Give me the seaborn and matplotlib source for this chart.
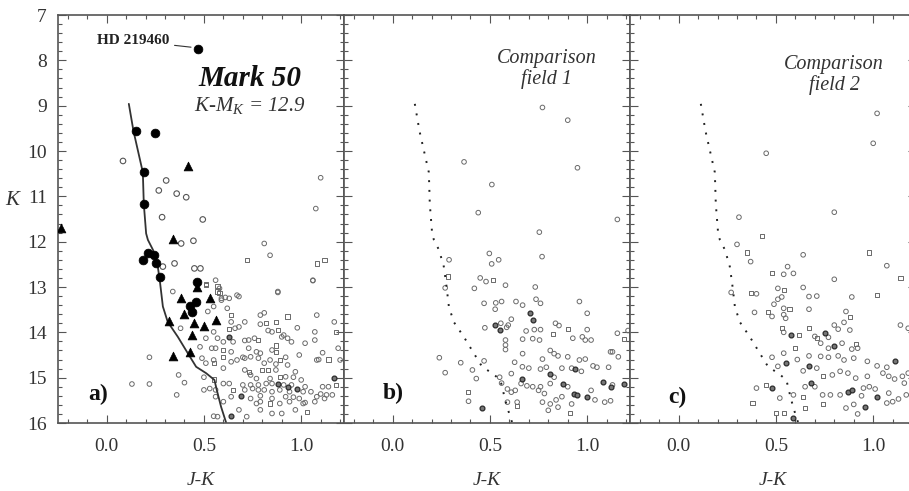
import matplotlib
matplotlib.use("Agg")
import matplotlib.pyplot as plt
import seaborn as sns
import pandas as pd
from matplotlib.ticker import MultipleLocator

# Isochrone (J-K, K)
iso_jk = [0.114, 0.138, 0.186, 0.191, 0.203, 0.212, 0.238, 0.263, 0.275, 0.289, 0.314,
          0.366, 0.417, 0.460, 0.511, 0.554, 0.566, 0.588, 0.614]
iso_k = [8.96, 9.56, 10.47, 11.17, 11.82, 11.96, 12.18, 12.55, 12.92, 13.43, 13.77,
         14.10, 14.46, 14.76, 14.90, 15.05, 15.27, 15.64, 15.99]

# Panel a: Mark 50 members
a_big = [(0.47, 7.74), (0.149, 9.56), (0.246, 9.60), (0.19, 10.47), (0.19, 11.17),
         (0.212, 12.24), (0.241, 12.30), (0.185, 12.41), (0.255, 12.48), (0.275, 12.79),
         (0.463, 12.88), (0.46, 13.32), (0.43, 13.43), (0.44, 13.55)]
a_tri = [(0.42, 10.32), (0.34, 11.95), (-0.236, 11.69), (0.463, 13.0), (0.383, 13.25),
         (0.532, 13.25), (0.40, 13.6), (0.318, 13.75), (0.448, 13.79), (0.499, 13.86),
         (0.56, 13.73), (0.437, 14.06), (0.43, 14.43), (0.34, 14.52)]
a_open = [(0.084, 10.22), (0.306, 10.65), (0.268, 10.87), (0.36, 10.94), (0.409, 11.02),
          (0.285, 11.46), (0.494, 11.51), (0.383, 12.04), (0.446, 11.98), (0.289, 12.55),
          (0.451, 12.59), (0.482, 12.59), (0.349, 12.48)]
a_circ = [(0.58, 13.03), (0.67, 13.18), (0.68, 13.21), (0.88, 13.12), (1.06, 12.86),
          (0.59, 13.29), (0.55, 13.43), (0.52, 13.54), (0.62, 13.47), (0.79, 13.62),
          (0.81, 13.57), (1.08, 13.62), (1.17, 13.77), (0.64, 13.77), (0.71, 13.77),
          (0.68, 13.88), (0.66, 13.91), (0.79, 13.82), (0.55, 13.99), (0.83, 13.96),
          (0.85, 13.99), (0.98, 13.90), (1.07, 13.99), (0.51, 14.13), (0.57, 14.13),
          (0.60, 14.21), (0.65, 14.21), (0.71, 14.18), (0.73, 14.17), (0.76, 14.13),
          (0.90, 14.10), (0.91, 14.06), (0.93, 14.13), (0.95, 14.21), (1.02, 14.24),
          (1.07, 14.17), (0.48, 14.32), (0.54, 14.35), (0.56, 14.35), (0.64, 14.43),
          (0.73, 14.35), (0.77, 14.43), (0.85, 14.39), (0.79, 14.46), (0.70, 14.55),
          (0.74, 14.54), (0.49, 14.57), (0.55, 14.61), (0.67, 14.61), (0.71, 14.57),
          (0.78, 14.57), (0.84, 14.61), (0.92, 14.55), (0.99, 14.50), (1.11, 14.45),
          (1.19, 14.35), (1.08, 14.61), (1.09, 14.60), (1.20, 14.61), (0.51, 14.68),
          (0.64, 14.65), (0.81, 14.68), (0.87, 14.70), (0.93, 14.72), (0.60, 14.79),
          (0.71, 14.83), (0.87, 14.83), (0.97, 14.87), (0.50, 14.99), (0.74, 14.94),
          (0.77, 15.02), (0.84, 15.02), (0.92, 14.98), (0.96, 14.99), (1.00, 15.05),
          (0.60, 15.13), (0.63, 15.13), (0.70, 15.16), (0.74, 15.16), (0.78, 15.16),
          (0.82, 15.13), (0.85, 15.13), (0.91, 15.16), (0.95, 15.16), (1.02, 15.20),
          (1.11, 15.20), (1.14, 15.20), (0.50, 15.27), (0.53, 15.24), (0.56, 15.27),
          (0.71, 15.27), (0.75, 15.24), (0.78, 15.27), (0.81, 15.27), (0.85, 15.31),
          (0.89, 15.27), (0.94, 15.31), (1.01, 15.31), (1.05, 15.31), (1.10, 15.36),
          (1.13, 15.38), (1.16, 15.38), (0.56, 15.42), (0.64, 15.42), (0.74, 15.46),
          (0.79, 15.40), (0.85, 15.46), (0.92, 15.42), (0.96, 15.43), (0.99, 15.46),
          (1.02, 15.55), (1.08, 15.42), (1.12, 15.46), (0.60, 15.53), (0.77, 15.57),
          (0.79, 15.53), (0.89, 15.57), (0.94, 15.53), (1.01, 15.57), (1.07, 15.53),
          (0.68, 15.71), (0.79, 15.71), (0.85, 15.79), (0.90, 15.79), (0.97, 15.71),
          (0.55, 15.85), (0.57, 15.86), (0.72, 15.86), (0.22, 14.55), (0.13, 15.14),
          (0.22, 15.14), (0.37, 14.94), (0.40, 15.11), (0.36, 15.38), (0.34, 13.10),
          (0.38, 13.91), (0.56, 12.85), (0.59, 13.25), (0.61, 13.23), (0.63, 13.25),
          (0.84, 12.30), (0.81, 12.04), (0.88, 13.10), (1.06, 12.85), (1.10, 10.59),
          (1.075, 11.27)]
a_sq = [(0.51, 12.96), (0.58, 13.13), (0.64, 13.62), (0.93, 13.65), (0.82, 13.79),
        (0.87, 13.78), (0.63, 13.93), (0.88, 13.95), (1.18, 13.99), (0.78, 14.17),
        (0.87, 14.29), (0.60, 14.39), (0.87, 14.43), (0.60, 14.55), (0.89, 14.61),
        (1.14, 14.60), (0.55, 14.68), (0.73, 14.87), (0.80, 14.83), (0.83, 14.83),
        (0.55, 15.04), (0.89, 14.98), (1.18, 15.16), (0.65, 15.27), (0.84, 15.57),
        (1.03, 15.75), (0.51, 12.94), (0.57, 12.98), (0.57, 13.10), (0.72, 12.40),
        (1.08, 12.48), (1.12, 12.41)]
a_dark = [(0.63, 14.10), (1.17, 15.01), (0.88, 15.13), (0.98, 15.24), (0.69, 15.40),
          (0.64, 15.84), (0.93, 15.20)]

# Panel b: comparison field 1
b_circ = [(0.77, 9.04), (0.90, 9.32), (0.367, 10.24), (0.95, 10.37), (0.51, 10.74),
          (0.44, 11.36), (1.155, 11.51), (0.754, 11.79), (0.497, 12.26), (0.509, 12.49),
          (0.545, 12.40), (0.768, 12.33), (0.29, 12.40), (0.27, 13.02), (0.45, 12.80),
          (0.48, 12.88), (0.42, 13.03), (0.58, 12.96), (0.733, 13.0), (0.737, 13.27),
          (0.76, 13.36), (0.96, 13.32), (1.0, 13.58), (0.53, 13.35), (0.56, 13.32),
          (0.634, 13.32), (0.668, 13.40), (0.47, 13.36), (0.527, 13.49), (0.61, 13.71),
          (0.556, 13.80), (0.594, 13.84), (0.586, 13.89), (0.474, 13.90), (0.686, 13.97),
          (0.728, 13.94), (0.76, 13.94), (0.837, 13.80), (0.855, 13.85), (1.0, 13.94),
          (0.668, 14.15), (0.72, 14.14), (0.58, 14.17), (0.58, 14.28), (0.755, 14.17),
          (0.926, 14.13), (0.975, 14.10), (0.99, 14.17), (1.02, 14.17), (1.155, 14.02),
          (0.81, 14.40), (0.83, 14.47), (0.85, 14.52), (0.668, 14.47), (0.77, 14.59),
          (0.58, 14.38), (0.627, 14.66), (0.76, 14.81), (0.79, 14.77), (0.90, 14.54),
          (0.96, 14.61), (0.99, 14.59), (1.03, 14.74), (1.05, 14.77), (1.12, 14.43),
          (1.13, 14.43), (1.16, 14.54), (1.11, 14.77), (0.97, 14.86), (0.92, 14.79),
          (0.87, 14.79), (0.83, 14.99), (0.70, 14.79), (0.667, 14.76), (0.61, 14.91),
          (0.55, 14.99), (0.56, 15.12), (0.59, 15.25), (0.61, 15.32), (0.63, 15.28),
          (0.66, 15.13), (0.69, 15.18), (0.72, 15.20), (0.75, 15.28), (0.76, 15.20),
          (0.78, 15.35), (0.81, 15.13), (0.90, 15.20), (1.02, 15.28), (1.13, 15.16),
          (1.04, 15.49), (1.09, 15.54), (1.12, 15.51), (0.77, 15.54), (0.81, 15.58),
          (0.85, 15.65), (0.80, 15.72), (0.84, 15.49), (0.87, 15.42), (0.92, 15.58),
          (0.39, 15.52), (0.43, 15.02), (0.41, 14.83), (0.47, 14.63), (0.35, 14.67),
          (0.27, 14.89), (0.24, 14.56), (0.59, 15.54), (0.64, 15.54), (1.21, 13.96)]
b_sq = [(0.285, 12.77), (0.514, 12.84), (0.90, 13.92), (0.823, 14.04), (1.19, 14.15),
        (0.388, 15.31), (0.91, 15.78), (0.64, 15.62)]
b_dark = [(0.708, 13.57), (0.72, 13.73), (0.527, 13.84), (0.553, 13.94), (0.935, 14.81),
          (0.81, 14.93), (0.667, 15.02), (0.875, 15.13), (0.93, 15.35), (0.95, 15.39),
          (1.0, 15.42), (1.08, 15.10), (1.12, 15.20), (1.19, 15.13), (0.46, 15.68)]

# Panel c: comparison field 2
c_circ = [(1.02, 9.17), (1.0, 9.83), (0.45, 10.05), (0.80, 11.35), (0.31, 11.46),
          (0.30, 12.06), (0.37, 12.44), (0.64, 12.29), (1.07, 12.53), (0.54, 12.72),
          (0.59, 12.70), (0.56, 12.55), (0.80, 12.83), (0.51, 13.03), (0.64, 13.01),
          (0.67, 13.21), (0.71, 13.20), (0.40, 13.15), (0.27, 13.12), (0.89, 13.22),
          (0.49, 13.38), (0.51, 13.27), (0.53, 13.22), (0.39, 13.56), (0.48, 13.65),
          (0.54, 13.47), (0.67, 13.49), (0.54, 13.61), (0.55, 13.69), (0.86, 13.54),
          (0.85, 13.78), (0.88, 13.95), (0.82, 13.93), (0.80, 13.84), (1.14, 13.84),
          (1.18, 13.91), (0.54, 14.00), (0.70, 14.09), (0.77, 14.11), (0.73, 14.24),
          (0.77, 14.35), (0.84, 14.24), (0.92, 14.35), (0.89, 14.37), (0.54, 14.46),
          (0.67, 14.52), (0.73, 14.53), (0.77, 14.55), (0.82, 14.52), (0.85, 14.61),
          (0.90, 14.57), (0.97, 14.64), (1.02, 14.74), (1.07, 14.77), (1.18, 14.90),
          (0.48, 14.55), (0.51, 14.75), (0.64, 14.85), (0.71, 14.79), (0.79, 14.94),
          (0.83, 14.86), (0.87, 14.90), (0.91, 15.01), (0.97, 14.97), (1.05, 14.90),
          (1.08, 14.97), (1.11, 15.03), (1.15, 14.97), (1.16, 15.12), (0.40, 15.23),
          (0.52, 15.45), (0.59, 15.38), (0.65, 15.20), (0.70, 15.20), (0.74, 15.38),
          (0.78, 15.38), (0.83, 15.38), (0.95, 15.23), (0.98, 15.20), (1.01, 15.25),
          (1.07, 15.56), (1.10, 15.53), (1.13, 15.47), (1.08, 15.34), (1.17, 15.38),
          (0.86, 15.67), (0.90, 15.59), (0.92, 15.80), (0.94, 15.40), (0.61, 14.60)]
c_sq = [(0.43, 11.88), (0.35, 12.24), (0.98, 12.24), (1.14, 12.81), (0.48, 12.70),
        (0.54, 13.06), (0.37, 13.14), (1.02, 13.17), (0.46, 13.56), (0.57, 13.49),
        (0.88, 13.67), (0.53, 13.91), (0.62, 14.06), (0.67, 13.91), (0.71, 14.13),
        (0.91, 14.25), (0.60, 14.35), (0.74, 14.97), (0.45, 15.16), (0.64, 15.42),
        (0.38, 15.56), (0.50, 15.78), (0.54, 15.78), (0.65, 15.67), (0.74, 15.59)]
c_dark = [(0.58, 14.06), (0.75, 14.02), (0.80, 14.31), (1.11, 14.63), (0.55, 14.67),
          (0.67, 14.74), (0.48, 15.23), (0.68, 15.12), (0.87, 15.31), (0.89, 15.27),
          (1.02, 15.43), (0.59, 15.89), (0.96, 15.64)]

panel_tags = ["a)", "b)", "c)"]
tick_labels = ["0.0", "0.5", "1.0"]


def frame(pairs):
    return pd.DataFrame(pairs, columns=["jk", "k"])


sns.set_theme(style="ticks")
plt.rcParams["font.family"] = ["Liberation Serif", "DejaVu Serif"]
plt.rcParams["mathtext.fontset"] = "custom"
plt.rcParams["mathtext.it"] = "Liberation Serif:italic"
plt.rcParams["mathtext.rm"] = "Liberation Serif"

fig = plt.figure(figsize=(9.09, 4.91), dpi=100)
lefts = [58 / 909, 344 / 909, 630 / 909]
axes = [fig.add_axes([l, 68 / 491, 286 / 909, 408 / 491]) for l in lefts]

gray = "#555555"
field_kw = dict(facecolor="none", edgecolor="#6a6a6a", linewidth=0.7, legend=False)


def small_stars(ax, circ, sq, dark):
    sns.scatterplot(data=frame(circ), x="jk", y="k", ax=ax, marker="o", s=11, **field_kw)
    sns.scatterplot(data=frame(sq), x="jk", y="k", ax=ax, marker="s", s=9, **field_kw)
    sns.scatterplot(data=frame(dark), x="jk", y="k", ax=ax, marker="o", s=12,
                    color="#777777", edgecolor="#2a2a2a", linewidth=0.9, legend=False)


iso = pd.DataFrame({"jk": iso_jk, "k": iso_k})

# a) Mark 50
ax = axes[0]
small_stars(ax, a_circ, a_sq, a_dark)
sns.scatterplot(data=frame(a_open), x="jk", y="k", ax=ax, marker="o", s=16,
                facecolor="none", edgecolor="#555555", linewidth=0.8, legend=False)
sns.lineplot(data=iso, x="jk", y="k", ax=ax, sort=False, color="#333333", lw=1.3,
             estimator=None)
sns.scatterplot(data=frame(a_big), x="jk", y="k", ax=ax, marker="o", s=40,
                color="black", edgecolor="black", legend=False, zorder=5)
sns.scatterplot(data=frame(a_tri), x="jk", y="k", ax=ax, marker="^", s=40,
                color="black", edgecolor="black", legend=False, zorder=5)
ax.annotate("HD 219460", xy=(0.455, 7.72), xytext=(0.325, 7.57), ha="right",
            va="center", fontsize=11, fontweight="bold", color="#222222",
            arrowprops=dict(arrowstyle="-", lw=0.8, color="#333333", shrinkA=1, shrinkB=3))
ax.text(0.735, 8.39, "Mark 50", ha="center", va="center", fontsize=21,
        fontweight="bold", style="italic", color="#111111")
ax.text(0.735, 9.0, "K-M$_K$ = 12.9", ha="center", va="center", fontsize=15,
        style="italic", color="#333333")

# b) comparison field 1
ax = axes[1]
small_stars(ax, b_circ, b_sq, b_dark)
sns.lineplot(data=iso, x="jk", y="k", ax=ax, sort=False, color="#222222", lw=1.4,
             estimator=None, linestyle=(0, (1, 4)))
ax.text(0.79, 8.19, "Comparison\nfield 1", ha="center", va="center", fontsize=14.5,
        style="italic", color="#333333", linespacing=1.05)

# c) comparison field 2
ax = axes[2]
small_stars(ax, c_circ, c_sq, c_dark)
sns.lineplot(data=iso, x="jk", y="k", ax=ax, sort=False, color="#222222", lw=1.4,
             estimator=None, linestyle=(0, (1, 4)))
ax.text(0.80, 8.32, "Comparison\nfield 2", ha="center", va="center", fontsize=14.5,
        style="italic", color="#333333", linespacing=1.05)

tag_pos = [(-0.046, 15.38), (0.005, 15.34), (-0.005, 15.43)]
for i, ax in enumerate(axes):
    ax.set_xlim(-0.25, 1.22)
    ax.set_ylim(16, 7)
    ax.xaxis.set_major_locator(MultipleLocator(0.5))
    ax.xaxis.set_minor_locator(MultipleLocator(0.1))
    ax.yaxis.set_major_locator(MultipleLocator(1))
    ax.yaxis.set_minor_locator(MultipleLocator(0.2))
    ax.set_xticks([0.0, 0.5, 1.0])
    ax.set_xticklabels(tick_labels)
    ax.tick_params(which="both", direction="in", top=True, right=True, color=gray,
                   width=0.8, labelsize=14, labelcolor="#333333")
    ax.tick_params(which="major", length=6)
    ax.tick_params(which="minor", length=3)
    ax.tick_params(axis="x", pad=11)
    ax.tick_params(axis="y", pad=8)
    for sp in ax.spines.values():
        sp.set_color(gray)
        sp.set_linewidth(1.2)
    ax.set_xlabel("J-K", fontsize=14, style="italic", color="#333333", labelpad=12)
    ax.set_ylabel("")
    ax.text(tag_pos[i][0], tag_pos[i][1], panel_tags[i], ha="center", va="center",
            fontsize=17, fontweight="bold", color="#111111")
    if i > 0:
        ax.tick_params(axis="y", labelleft=False)

axes[0].set_ylabel("K", fontsize=15, style="italic", rotation=0, color="#333333")
axes[0].yaxis.set_label_coords(-46 / 286, 1 - (210 - 15) / 408)

fig.savefig("out.png", dpi=100)
